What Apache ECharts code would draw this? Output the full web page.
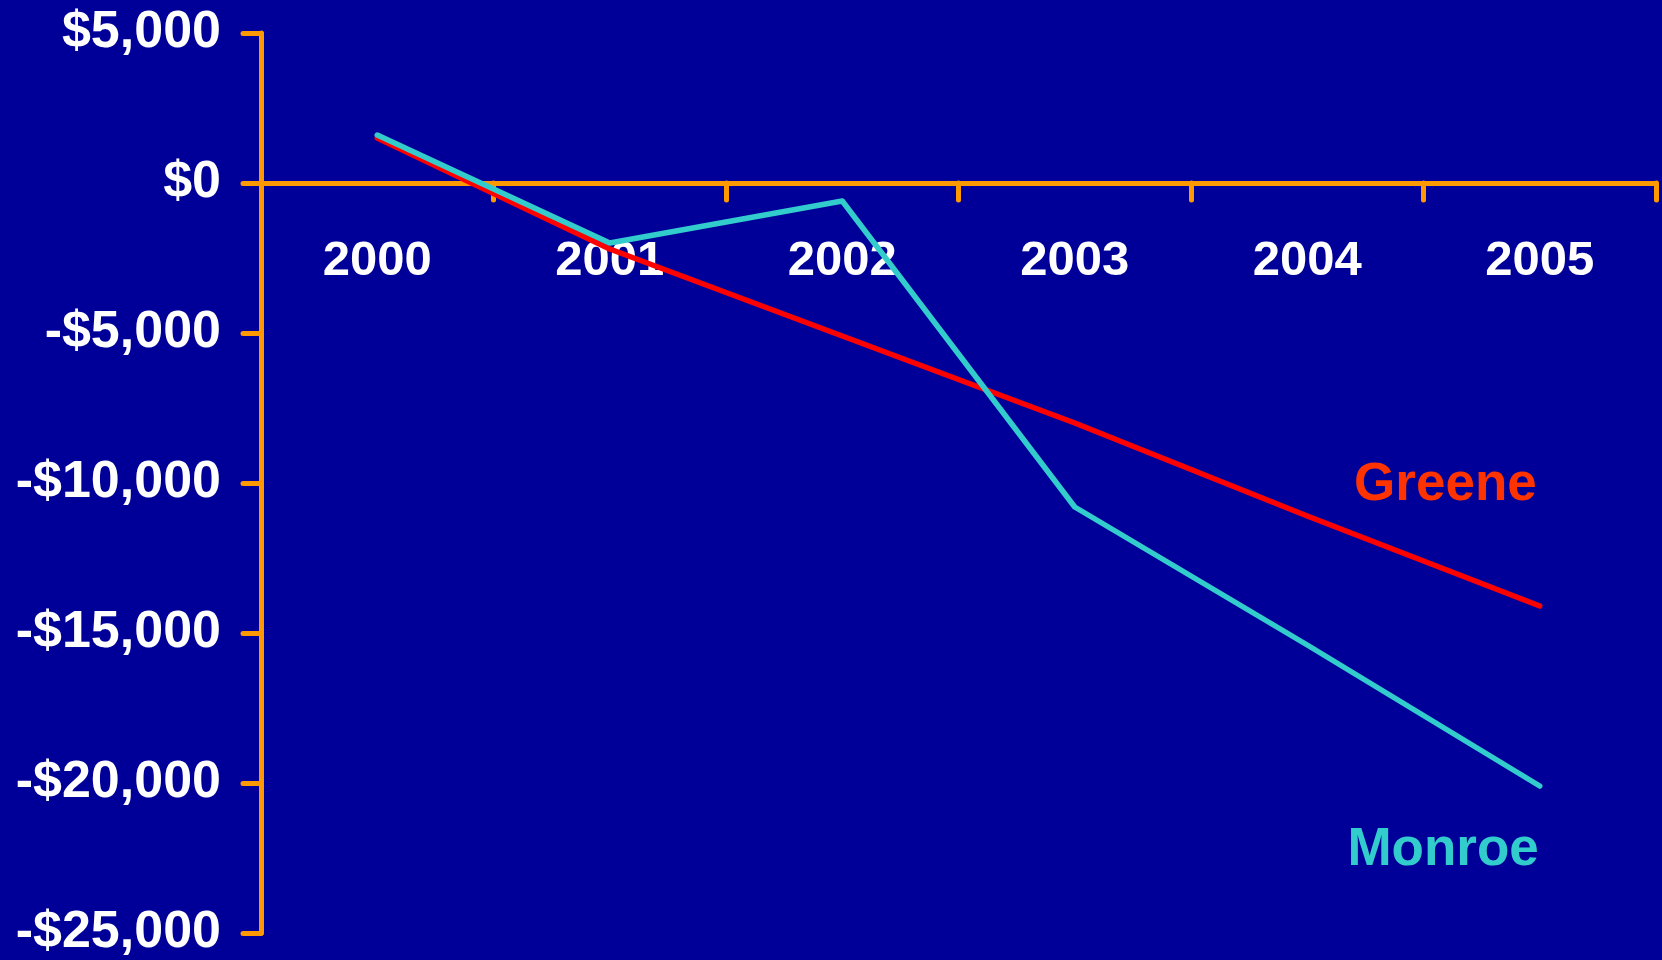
<!DOCTYPE html>
<html>
<head>
<meta charset="utf-8">
<title>Greene vs Monroe</title>
<script src="https://cdn.jsdelivr.net/npm/echarts@6/dist/echarts.min.js"></script>
<style>
  html, body { margin: 0; padding: 0; background: #000099; }
  #chart { width: 1662px; height: 960px; }
</style>
</head>
<body>
<div id="chart"></div>
<script>
// Fiscal years on the category axis
const years = ['2000', '2001', '2002', '2003', '2004', '2005'];

// Annual balance, in dollars
const greene = [1500, -2200, -5100, -8000, -11100, -14100];
const monroe = [1600, -2000, -600, -10800, -15400, -20100];

// Value axis range and step
const yMin = -25000;
const yMax = 5000;
const yStep = 5000;

const AXIS = '#FF9900';
const FONT = '"Liberation Sans", Arial, sans-serif';

function money(v) {
  const s = Math.abs(v).toLocaleString('en-US');
  return (v < 0 ? '-' : '') + '$' + s;
}

const chart = echarts.init(document.getElementById('chart'));

chart.setOption({
  backgroundColor: '#000099',
  animation: false,
  grid: { left: 261, right: 6, top: 33, bottom: 27, containLabel: false, outerBoundsMode: 'none' },
  xAxis: {
    type: 'category',
    data: years,
    boundaryGap: true,
    offset: 0,
    axisLine: { onZero: false, lineStyle: { color: AXIS, width: 5, cap: 'round' } },
    axisTick: { show: true, length: 17, lineStyle: { color: AXIS, width: 5, cap: 'round' } },
    axisLabel: {
      color: '#FFFFFF', fontFamily: FONT, fontWeight: 'bold', fontSize: 49,
      margin: 54, interval: 0
    },
    splitLine: { show: false }
  },
  yAxis: {
    type: 'value',
    min: yMin, max: yMax, interval: yStep,
    axisLine: { show: true, lineStyle: { color: AXIS, width: 5, cap: 'round' } },
    axisTick: { show: true, length: 18, lineStyle: { color: AXIS, width: 5, cap: 'round' } },
    axisLabel: {
      color: '#FFFFFF', fontFamily: FONT, fontWeight: 'bold', fontSize: 52,
      margin: 40, formatter: money
    },
    splitLine: { show: false }
  },
  series: [
    {
      name: 'Greene', type: 'line', data: greene,
      symbol: 'none',
      lineStyle: { color: '#FF0000', width: 5.5, cap: 'round', join: 'round' }
    },
    {
      name: 'Monroe', type: 'line', data: monroe,
      symbol: 'none',
      lineStyle: { color: '#33CCCC', width: 5.5, cap: 'round', join: 'round' }
    }
  ]
});

// Lift the year axis (line, ticks and labels) up to the $0 level
const zeroY = chart.convertToPixel({ yAxisIndex: 0 }, 0);
const floorY = chart.convertToPixel({ yAxisIndex: 0 }, yMin);

// Series names sit next to each line's final point
const last = years.length - 1;
const gEnd = chart.convertToPixel({ seriesIndex: 0 }, [last, greene[last]]);
const mEnd = chart.convertToPixel({ seriesIndex: 1 }, [last, monroe[last]]);

chart.setOption({
  xAxis: { offset: zeroY - floorY },
  graphic: [
    {
      type: 'text', x: gEnd[0] - 3, y: gEnd[1] - 121,
      style: {
        text: 'Greene', fill: '#FF3300', font: 'bold 53px ' + FONT,
        textAlign: 'right', textVerticalAlign: 'middle'
      }
    },
    {
      type: 'text', x: mEnd[0] - 1, y: mEnd[1] + 64,
      style: {
        text: 'Monroe', fill: '#33CCCC', font: 'bold 53px ' + FONT,
        textAlign: 'right', textVerticalAlign: 'middle'
      }
    }
  ]
});
</script>
</body>
</html>
